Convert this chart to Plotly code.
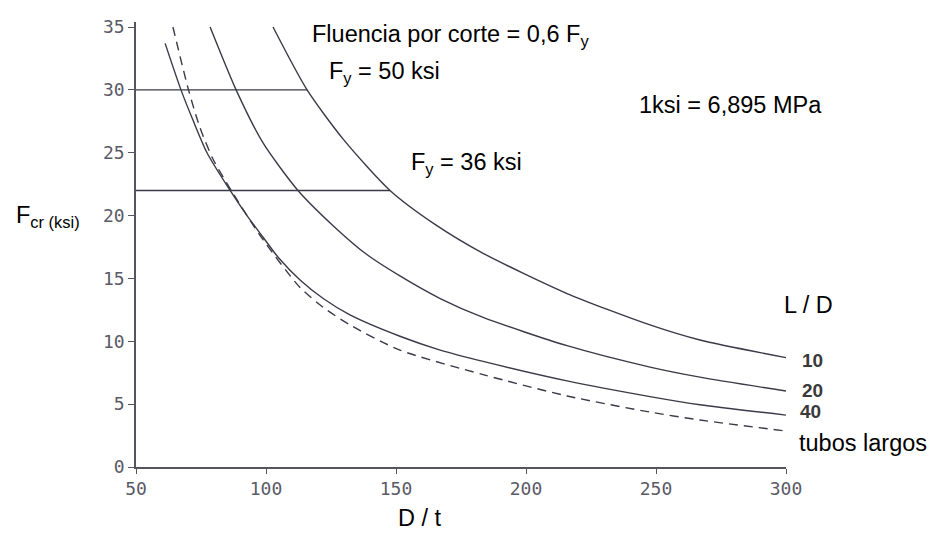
import plotly.graph_objects as go

# ---- data ----
dt_10 = [102.7, 115.8, 130, 147.7, 165, 183.5, 215.8, 247.7, 266.9, 300]
fcr_10 = [35.0, 30.0, 26.0, 22.0, 19.3, 17.0, 13.8, 11.3, 10.1, 8.7]

dt_20 = [78.5, 88.5, 98.8, 112.3, 125.8, 138.8, 151.5, 167, 183.5, 215.8, 247.7, 266.9, 300]
fcr_20 = [35.0, 30.0, 25.8, 22.0, 19.2, 16.9, 15.2, 13.4, 11.9, 9.65, 7.95, 7.15, 6.04]

dt_40 = [61.2, 67.3, 71.9, 77.3, 86.2, 92.7, 98.8, 105, 113, 122, 132.3, 151.5, 167, 183.5, 215.8, 247.7, 266.9, 300]
fcr_40 = [33.7, 30.0, 27.6, 25.0, 22.0, 20.0, 18.3, 16.6, 14.9, 13.4, 12.1, 10.4, 9.3, 8.4, 6.85, 5.6, 4.95, 4.13]

dt_long = [64.2, 70.2, 74.6, 79.6, 86.9, 98.8, 113, 122, 132.3, 151.5, 183.5, 215.8, 247.7, 266.9, 300]
fcr_long = [35.0, 30.0, 27.0, 24.5, 21.9, 18.1, 14.3, 12.7, 11.3, 9.3, 7.35, 5.65, 4.37, 3.74, 2.86]

# shear-yield limits (0.6 Fy)
dt_fy50 = [50, 115.8]
fcr_fy50 = [30, 30]
dt_fy36 = [50, 147.7]
fcr_fy36 = [22, 22]

x_ticks = [50, 100, 150, 200, 250, 300]
y_ticks = [0, 5, 10, 15, 20, 25, 30, 35]

LINE = "#3a3a48"
AX = "#55555f"

fig = go.Figure()
for xs, ys in [(dt_10, fcr_10), (dt_20, fcr_20), (dt_40, fcr_40)]:
    fig.add_trace(go.Scatter(x=xs, y=ys, mode="lines",
                             line=dict(color=LINE, width=1.4, shape="spline", smoothing=0.7),
                             showlegend=False, hoverinfo="skip"))
fig.add_trace(go.Scatter(x=dt_long, y=fcr_long, mode="lines",
                         line=dict(color=LINE, width=1.4, dash="9px,6px", shape="spline", smoothing=0.7),
                         showlegend=False, hoverinfo="skip"))
for xs, ys in [(dt_fy50, fcr_fy50), (dt_fy36, fcr_fy36)]:
    fig.add_trace(go.Scatter(x=xs, y=ys, mode="lines",
                             line=dict(color=LINE, width=1.4),
                             showlegend=False, hoverinfo="skip"))

L, R, T, B = 136, 148, 22, 66
W, H = 934, 533
PW, PH = W - L - R, H - T - B


def px(xp):
    return (xp - L) / PW


def py(yp):
    return (H - B - yp) / PH


TXT = "Liberation Sans, Arial, sans-serif"
labels = [
    ("Fluencia por corte = 0,6 F<sub>y</sub>", 310, 35, 23.5, "black"),
    ("F<sub>y</sub> = 50 ksi", 327, 72, 23.5, "black"),
    ("F<sub>y</sub> = 36 ksi", 409, 164, 23.5, "black"),
    ("1ksi = 6,895 MPa", 637, 105, 23.5, "black"),
    ("F<sub>cr (ksi)</sub>", 14, 216, 23.5, "black"),
    ("L / D", 782, 305, 23.5, "black"),
    ("<b>10</b>", 800, 360, 19, "#3a3a3a"),
    ("<b>20</b>", 800, 390, 19, "#3a3a3a"),
    ("<b>40</b>", 798, 411, 19, "#3a3a3a"),
    ("tubos largos", 797, 443, 23.5, "black"),
    ("D / t", 396, 518, 23.5, "black"),
]
for text, xp, yp, size, col in labels:
    fig.add_annotation(text=text, x=px(xp), y=py(yp), xref="paper", yref="paper",
                       xanchor="left", yanchor="middle", showarrow=False,
                       font=dict(family=TXT, size=size, color=col))

tickfont = dict(family="DejaVu Sans Mono, monospace", size=18, color="#5a5a66")
fig.update_xaxes(range=[50, 300], tickvals=x_ticks, showgrid=False, zeroline=False,
                 showline=True, linecolor=AX, linewidth=1.5, ticks="outside",
                 ticklen=5, tickcolor=AX, tickwidth=1.3, tickfont=tickfont)
fig.update_yaxes(range=[0, 35.4], tickvals=y_ticks, showgrid=False, zeroline=False,
                 showline=True, linecolor=AX, linewidth=1.5, ticks="outside",
                 ticklen=6, tickcolor=AX, tickwidth=1.3, tickfont=tickfont)

fig.update_layout(width=W, height=H, margin=dict(l=L, r=R, t=T, b=B),
                  plot_bgcolor="white", paper_bgcolor="white", showlegend=False)

fig.write_html("out.html")
